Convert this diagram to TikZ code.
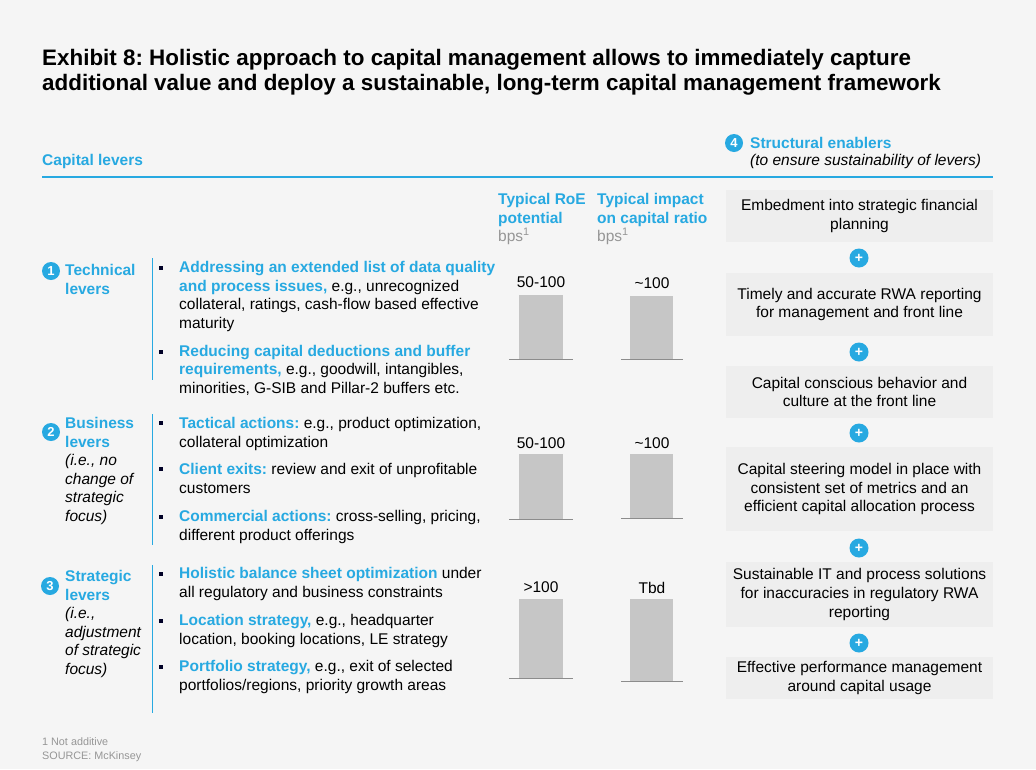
\documentclass[tikz,border=0pt]{standalone}
\usepackage{fontspec}
\setmainfont{Liberation Sans}
\frenchspacing
\definecolor{mckblue}{RGB}{39,169,225}
\definecolor{pagegrey}{RGB}{245,245,245}
\definecolor{boxgrey}{RGB}{238,238,238}
\definecolor{bargrey}{RGB}{198,198,198}
\definecolor{notegrey}{RGB}{150,150,150}
\newcommand{\bluebf}[1]{\textcolor{mckblue}{\bfseries #1}}
\tikzset{
  txt/.style={anchor=base west, inner sep=0, align=left, font=\fontsize{15.5}{18.4}\selectfont},
  lvhead/.style={txt, text=mckblue, font=\bfseries\fontsize{15.5}{18.4}\selectfont},
  lvnote/.style={txt, font=\itshape\fontsize{15.5}{18.4}\selectfont},
  enabler/.style={fill=boxgrey, minimum width=267, inner sep=0, align=center, font=\fontsize{15.5}{18.6}\selectfont},
  plus/.style={circle, fill=mckblue, text=white, inner sep=0, minimum size=19, font=\bfseries\fontsize{14}{14}\selectfont},
  num/.style={circle, fill=mckblue, text=white, inner sep=0, minimum size=18, font=\bfseries\fontsize{13}{13}\selectfont},
  bullet/.style={fill=black!85!blue, minimum size=4, inner sep=0},
  barval/.style={anchor=base, inner sep=0, font=\fontsize{15.5}{15.5}\selectfont},
}
\begin{document}
\begin{tikzpicture}[x=1pt,y=-1pt]
\fill[pagegrey] (0,0) rectangle (1036,769);
\useasboundingbox (0,0) rectangle (1036,769);
\node[txt, font=\bfseries\fontsize{22.4}{25}\selectfont] (title) at (42,90) {Exhibit 8: Holistic approach to capital management allows to immediately capture\\additional value and deploy a sustainable, long-term capital management framework};
\node[lvhead] (caplev) at (42,165) {Capital levers};
\draw[mckblue, line width=1.2] (42,177) -- (993,177);
\node[num] (n4) at (734,143) {4};
\node[lvhead] (struct) at (750,148) {Structural enablers};
\node[lvnote] (ensure) at (750,165) {(to ensure sustainability of levers)};
\node[lvhead] (roe) at (498,223) {Typical RoE\\potential};
\node[txt, text=notegrey] (bps1) at (498,241) {bps\textsuperscript{1}};
\node[lvhead] (impact) at (597,223) {Typical impact\\on capital ratio};
\node[txt, text=notegrey] (bps2) at (597,241) {bps\textsuperscript{1}};
\node[num] (n1) at (51,271) {1};
\node[lvhead] (tech) at (65,294) {Technical\\levers};
\draw[mckblue] (152,258) -- (152,380);
\node[bullet] (b11) at (161,268) {};
\node[txt] (t11) at (179,328) {\bluebf{Addressing an extended list of data quality}\\\bluebf{and process issues,} e.g., unrecognized\\collateral, ratings, cash-flow based effective\\maturity};
\node[bullet] (b12) at (161,352) {};
\node[txt] (t12) at (179,393) {\bluebf{Reducing capital deductions and buffer}\\\bluebf{requirements,} e.g., goodwill, intangibles,\\minorities, G-SIB and Pillar-2 buffers etc.};
\node[num] (n2) at (51,432) {2};
\node[lvhead] (bus) at (65,447) {Business\\levers};
\node[lvnote] (busnote) at (65,521) {(i.e., no\\change of\\strategic\\focus)};
\draw[mckblue] (152,414) -- (152,545);
\node[bullet] (b21) at (161,423) {};
\node[txt] (t21) at (179,447) {\bluebf{Tactical actions:} e.g., product optimization,\\collateral optimization};
\node[bullet] (b22) at (161,469) {};
\node[txt] (t22) at (179,493) {\bluebf{Client exits:} review and exit of unprofitable\\customers};
\node[bullet] (b23) at (161,517) {};
\node[txt] (t23) at (179,540) {\bluebf{Commercial actions:} cross-selling, pricing,\\different product offerings};
\node[num] (n3) at (50,586) {3};
\node[lvhead] (strat) at (65,600) {Strategic\\levers};
\node[lvnote] (stratnote) at (65,674) {(i.e.,\\adjustment\\of strategic\\focus)};
\draw[mckblue] (152,565) -- (152,713);
\node[bullet] (b31) at (161,574) {};
\node[txt] (t31) at (179,597) {\bluebf{Holistic balance sheet optimization} under\\all regulatory and business constraints};
\node[bullet] (b32) at (161,621) {};
\node[txt] (t32) at (179,644) {\bluebf{Location strategy,} e.g., headquarter\\location, booking locations, LE strategy};
\node[bullet] (b33) at (161,667) {};
\node[txt] (t33) at (179,690) {\bluebf{Portfolio strategy,} e.g., exit of selected\\portfolios/regions, priority growth areas};
\fill[bargrey] (519,295) rectangle (563,359);
\draw[black!45] (509,359) -- (573,359);
\node[barval] (v11) at (541,287) {50-100};
\fill[bargrey] (630,296) rectangle (673,359);
\draw[black!45] (621,359) -- (683,359);
\node[barval] (v12) at (652,288) {\textasciitilde100};
\fill[bargrey] (519,454) rectangle (563,519);
\draw[black!45] (509,519) -- (573,519);
\node[barval] (v21) at (541,448) {50-100};
\fill[bargrey] (630,454) rectangle (673,518);
\draw[black!45] (621,518) -- (683,518);
\node[barval] (v22) at (652,448) {\textasciitilde100};
\fill[bargrey] (519,599) rectangle (563,678);
\draw[black!45] (509,678) -- (573,678);
\node[barval] (v31) at (541,592) {>100};
\fill[bargrey] (630,599) rectangle (673,681);
\draw[black!45] (621,681) -- (683,681);
\node[barval] (v32) at (652,593) {Tbd};
\node[enabler, minimum height=52] (e1) at (859.5,216) {Embedment into strategic financial\\planning};
\node[plus] (p1) at (859,258) {+};
\node[enabler, minimum height=63] (e2) at (859.5,304.5) {Timely and accurate RWA reporting\\for management and front line};
\node[plus] (p2) at (859,352) {+};
\node[enabler, minimum height=52] (e3) at (859.5,392) {Capital conscious behavior and\\culture at the front line};
\node[plus] (p3) at (859,433) {+};
\node[enabler, minimum height=84] (e4) at (859.5,489) {Capital steering model in place with\\consistent set of metrics and an\\efficient capital allocation process};
\node[plus] (p4) at (859,548) {+};
\node[enabler, minimum height=65] (e5) at (859.5,594.5) {Sustainable IT and process solutions\\for inaccuracies in regulatory RWA\\reporting};
\node[plus] (p5) at (859,643) {+};
\node[enabler, minimum height=42] (e6) at (859.5,678) {Effective performance management\\around capital usage};
\node[txt, text=notegrey, font=\fontsize{10.8}{14}\selectfont] (foot) at (42,759) {1 Not additive\\SOURCE: McKinsey};
\end{tikzpicture}
\end{document}
